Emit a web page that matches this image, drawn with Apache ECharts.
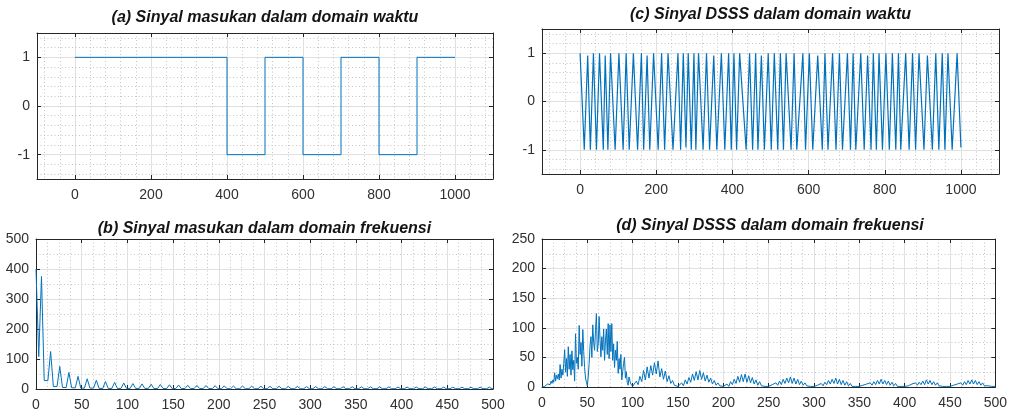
<!DOCTYPE html>
<html>
<head>
<meta charset="utf-8">
<script src="https://cdn.jsdelivr.net/npm/echarts@6/dist/echarts.min.js"></script>
<style>
html, body { margin: 0; padding: 0; background: #fff; }
#chart { width: 1010px; height: 412px; }
</style>
</head>
<body>
<div id="chart"></div>
<script>
// (a) sinyal masukan, domain waktu (titik-titik sudut gelombang kotak)
var aX = [0, 400, 400, 500, 500, 600, 600, 700, 700, 800, 800, 900, 900, 1000];
var aY = [1, 1, -1, -1, 1, 1, -1, -1, 1, 1, -1, -1, 1, 1];

// (c) sinyal DSSS, domain waktu (puncak dan lembah)
var cX = [0, 11, 20, 27, 35, 43, 51, 61, 66, 73,
  80, 92, 102, 113, 121, 129, 140, 151, 161, 167,
  176, 183, 193, 205, 214, 222, 231, 244, 257, 264,
  271, 278, 284, 292, 299, 304, 311, 323, 332, 340,
  351, 359, 371, 380, 390, 397, 404, 411, 419, 436,
  445, 453, 461, 467, 476, 484, 494, 502, 510, 519,
  526, 534, 541, 554, 562, 569, 585, 592, 602, 611,
  624, 636, 643, 651, 663, 672, 681, 689, 702, 710,
  717, 724, 737, 746, 755, 764, 770, 778, 785, 794,
  803, 812, 820, 829, 836, 842, 855, 864, 873, 881,
  890, 903, 912, 925, 934, 942, 951, 958, 966, 977,
  990, 1000];
var cY = [1, -1, 0.95, -1, 1, -1, 1, -1, 0.95, -1,
  1, -1, 1, -1, 1, -1, 1, -1, 1, -1,
  0.95, -1, 1, -1, 1, -1, 1, -1, 1, -1,
  1, -0.95, 1, -1, 1, -1, 1, -1, 1, -1,
  0.95, -1, 1, -1, 1, -1, 1, -1, 1, -1,
  1, -1, 1, -1, 0.95, -1, 1, -1, 1, -1,
  1, -1, 1, -1, 1, -1, 1, -1, 1, -1,
  0.95, -1, 1, -1, 1, -1, 1, -1, 1, -1,
  1, -1, 1, -1, 0.95, -1, 1, -1, 1, -1,
  1, -1, 1, -1, 1, -1, 1, -1, 1, -1,
  1, -1, 0.95, -1, 1, -1, 1, -1, 1, -1,
  1, -0.95];

// (b) sinyal masukan, domain frekuensi: puncak dan lembah
var bDC = 400;
var bPeakF = [6, 16, 26, 36, 46, 56, 66, 76, 86, 96,
  106, 116, 126, 136, 146, 156, 166, 176, 186, 196,
  206, 216, 226, 236, 246, 256, 266, 276, 286, 296,
  306, 316, 326, 336, 346, 356, 366, 376, 386, 396,
  406, 416, 426, 436, 446, 456, 466, 476, 486, 496];
var bPeakV = [375, 125, 75, 55, 42, 34, 29, 25, 22, 20,
  18, 17, 16, 15, 14, 13, 12.5, 12, 11.5, 11,
  10.5, 10, 10, 9.5, 9.5, 9, 9, 8.5, 8.5, 8,
  8, 8, 7.5, 7.5, 7.5, 7, 7, 7, 7, 6.5,
  6.5, 6.5, 6.5, 6.5, 6, 6, 6, 6, 6, 6];
var bLowV = [108, 28, 8, 5, 4, 3, 3, 2, 2, 2,
  2, 2, 2, 1.5, 1.5, 1.5, 1.5, 1.5, 1.5, 1.5,
  1, 1, 1, 1, 1, 1, 1, 1, 1, 1,
  1, 1, 1, 1, 1, 1, 1, 1, 1, 1,
  1, 1, 1, 1, 1, 1, 1, 1, 1, 1, 1];

// (d) sinyal DSSS, domain frekuensi
// lobus utama, bin 0..100
var dMain = [0, 1, 2, 1, 3, 2, 5, 3, 8, 4,
  10, 6, 12, 8, 24, 10, 20, 14, 22, 12,
  38, 15, 30, 20, 40, 63, 25, 48, 18, 68,
  30, 55, 20, 61, 29, 45, 10, 90, 40, 50,
  30, 104, 55, 75, 35, 97, 60, 33, 15, 8,
  2, 17, 40, 70, 85, 50, 105, 75, 62, 95,
  124, 60, 73, 119, 80, 51, 85, 62, 98, 45,
  79, 98, 55, 107, 48, 105, 60, 107, 45, 73,
  33, 62, 45, 77, 23, 48, 30, 55, 12, 26,
  40, 50, 15, 26, 8, 3, 17, 10, 5, 3,
  1];
// lobus samping, bin 102..500 (langkah 2)
var dSide = [3, 10, 4, 18, 9, 28, 12, 34, 15, 36, 20, 41, 22, 44, 17, 31, 13, 27, 9, 19, 6, 11, 3, 6, 1,
  3, 7, 2, 12, 5, 16, 8, 22, 11, 26, 12, 28, 13, 24, 10, 20, 8, 15, 5, 11, 3, 7, 2, 3, 1,
  2, 5, 1, 9, 4, 13, 6, 18, 8, 21, 9, 22, 8, 19, 7, 16, 5, 12, 3, 9, 2, 5, 1, 3, 1,
  1, 4, 1, 7, 3, 10, 4, 13, 6, 15, 7, 17, 6, 15, 5, 13, 4, 10, 3, 7, 2, 4, 1, 2, 1,
  1, 3, 1, 6, 2, 8, 4, 11, 5, 13, 6, 15, 5, 13, 4, 11, 3, 9, 2, 6, 1, 4, 1, 2, 1,
  1, 3, 1, 5, 2, 7, 3, 9, 4, 11, 5, 13, 5, 11, 4, 10, 3, 8, 2, 6, 1, 3, 1, 2, 1,
  1, 2, 1, 5, 2, 7, 3, 8, 4, 10, 4, 12, 5, 11, 4, 9, 3, 7, 2, 5, 1, 3, 1, 2, 1,
  1, 3, 1, 5, 2, 7, 3, 9, 4, 11, 5, 12, 5, 11, 4, 9, 3, 7, 2, 5, 2, 4, 1, 3, 1];

// label sumbu
var timeTicks = [0, 200, 400, 600, 800, 1000];
var ampTicks = [-1, 0, 1];
var freqTicks = [0, 50, 100, 150, 200, 250, 300, 350, 400, 450, 500];
var bMagTicks = [0, 100, 200, 300, 400, 500];
var dMagTicks = [0, 50, 100, 150, 200, 250];

var titles = ['(a) Sinyal masukan dalam domain waktu',
  '(b) Sinyal masukan dalam domain frekuensi',
  '(c) Sinyal DSSS dalam domain waktu',
  '(d) Sinyal DSSS dalam domain frekuensi'];

function range(a, b, s) {
  var r = [];
  for (var v = a; v <= b + 1e-9; v += s) r.push(Math.round(v * 1000) / 1000);
  return r;
}

var aData = aX.map(function (x, i) { return [x, aY[i]]; });
var cData = cX.map(function (x, i) { return [x, cY[i]]; });

var bData = [[0, bDC]];
bPeakF.forEach(function (f, i) {
  bData.push([f - 3, bLowV[i]]);
  bData.push([f, bPeakV[i]]);
  bData.push([f + 3, bLowV[i + 1]]);
});
bData.push([500, bLowV[bLowV.length - 1]]);

var dData = dMain.map(function (v, i) { return [i, v]; });
dSide.forEach(function (v, j) { dData.push([102 + 2 * j, v]); });

var FONT = 'Liberation Sans, Arial, sans-serif';
var INK = '#262626';

var option = {
  animation: false,
  backgroundColor: '#fff',
  grid: [], xAxis: [], yAxis: [], series: [], graphic: []
};

function minorAxis(g, r, vals, pos) {
  return {
    gridIndex: g, type: 'value', min: r[0], max: r[1], position: pos,
    axisLine: { show: false, onZero: false },
    axisTick: { show: false, customValues: vals },
    axisLabel: { show: false },
    splitLine: { show: true, lineStyle: { color: '#c4c4c4', width: 1, type: [1, 2.5] } }
  };
}
function mainAxis(g, r, ticks, pos) {
  return {
    gridIndex: g, type: 'value', min: r[0], max: r[1], position: pos,
    axisLine: { show: true, onZero: false, lineStyle: { color: INK, width: 1 } },
    axisTick: { show: true, inside: true, length: 4, customValues: ticks, lineStyle: { color: INK } },
    axisLabel: { show: true, customValues: ticks, color: '#303030', fontSize: 14, fontFamily: FONT,
      margin: pos === 'bottom' ? 9 : 7,
      formatter: function (v) { return String(v); } },
    splitLine: { show: true, lineStyle: { color: '#e0e0e0', width: 1 } }
  };
}
function boxAxis(g, r, ticks, pos) {
  return {
    gridIndex: g, type: 'value', min: r[0], max: r[1], position: pos,
    axisLine: { show: true, onZero: false, lineStyle: { color: INK, width: 1 } },
    axisTick: { show: true, inside: true, length: 4, customValues: ticks, lineStyle: { color: INK } },
    axisLabel: { show: false },
    splitLine: { show: false }
  };
}

function addPanel(p) {
  var g = option.grid.length;
  option.grid.push({ left: p.box[0], top: p.box[1], width: p.box[2], height: p.box[3] });
  option.xAxis.push(minorAxis(g, p.xr, p.xMinor, 'bottom'));
  option.xAxis.push(mainAxis(g, p.xr, p.xTicks, 'bottom'));
  option.xAxis.push(boxAxis(g, p.xr, p.xTicks, 'top'));
  option.yAxis.push(minorAxis(g, p.yr, p.yMinor, 'left'));
  option.yAxis.push(mainAxis(g, p.yr, p.yTicks, 'left'));
  option.yAxis.push(boxAxis(g, p.yr, p.yTicks, 'right'));
  option.series.push({
    type: 'line', xAxisIndex: 3 * g + 1, yAxisIndex: 3 * g + 1,
    data: p.data, showSymbol: false, symbol: 'none', clip: true,
    lineStyle: { color: '#0072BD', width: p.lw || 1 }
  });
  option.graphic.push({
    type: 'text', x: p.box[0] + p.box[2] / 2, y: p.titleY,
    style: {
      text: p.title, textAlign: 'center', align: 'center',
      textVerticalAlign: 'middle', verticalAlign: 'middle',
      font: 'italic bold 16px ' + FONT, fill: '#141414'
    }
  });
}

addPanel({ box: [37, 33, 456, 146], xr: [-100, 1100], yr: [-1.5, 1.5],
  xTicks: timeTicks, yTicks: ampTicks, xMinor: range(-80, 1080, 40), yMinor: range(-1.4, 1.4, 0.2),
  data: aData, title: titles[0], titleY: 18 });
addPanel({ box: [36, 239, 457, 150], xr: [0, 500], yr: [0, 500],
  xTicks: freqTicks, yTicks: bMagTicks, xMinor: range(12.5, 487.5, 12.5), yMinor: range(50, 450, 50),
  data: bData, title: titles[1], titleY: 229 });
addPanel({ box: [542, 29, 457, 145], xr: [-100, 1100], yr: [-1.5, 1.5],
  xTicks: timeTicks, yTicks: ampTicks, xMinor: range(-80, 1080, 40), yMinor: range(-1.4, 1.4, 0.2),
  data: cData, title: titles[2], titleY: 15, lw: 1.2 });
addPanel({ box: [542, 239, 456, 148], xr: [0, 500], yr: [0, 250],
  xTicks: freqTicks, yTicks: dMagTicks, xMinor: range(12.5, 487.5, 12.5), yMinor: range(25, 225, 25),
  data: dData, title: titles[3], titleY: 226 });

var chart = echarts.init(document.getElementById('chart'), null, { renderer: 'canvas' });
chart.setOption(option);
</script>
</body>
</html>
